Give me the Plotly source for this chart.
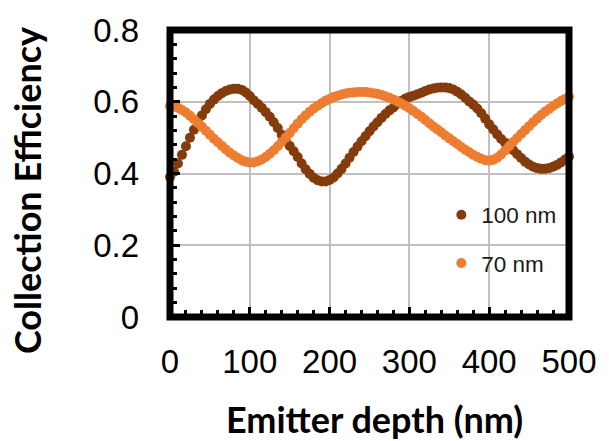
import plotly.graph_objects as go

depth_nm = list(range(0, 505, 5))

eff_100nm = [
    0.390, 0.405, 0.428, 0.452, 0.476, 0.500, 0.522, 0.543, 0.562, 0.579,
    0.594, 0.606, 0.616, 0.624, 0.630, 0.634, 0.636, 0.636, 0.633, 0.626,
    0.616, 0.604, 0.594, 0.583, 0.571, 0.558, 0.543, 0.527, 0.508, 0.492,
    0.477, 0.462, 0.446, 0.428, 0.412, 0.399, 0.388, 0.381, 0.378, 0.378,
    0.382, 0.389, 0.400, 0.413, 0.428, 0.444, 0.460, 0.475, 0.490, 0.504,
    0.518, 0.531, 0.543, 0.555, 0.566, 0.576, 0.584, 0.594, 0.603, 0.609,
    0.613, 0.617, 0.621, 0.625, 0.630, 0.634, 0.637, 0.639, 0.640, 0.640,
    0.638, 0.634, 0.628, 0.620, 0.611, 0.601, 0.592, 0.581, 0.568, 0.553,
    0.537, 0.523, 0.509, 0.496, 0.486, 0.476, 0.465, 0.454, 0.443, 0.433,
    0.425, 0.419, 0.415, 0.413, 0.413, 0.415, 0.419, 0.424, 0.431, 0.439,
    0.447,
]

eff_70nm = [
    0.588, 0.587, 0.583, 0.577, 0.570, 0.561, 0.551, 0.541, 0.530, 0.519,
    0.508, 0.497, 0.487, 0.477, 0.467, 0.458, 0.450, 0.443, 0.437, 0.433,
    0.431, 0.431, 0.434, 0.439, 0.446, 0.455, 0.465, 0.476, 0.488, 0.500,
    0.513, 0.526, 0.539, 0.551, 0.562, 0.572, 0.581, 0.589, 0.596, 0.603,
    0.608, 0.613, 0.617, 0.620, 0.623, 0.625, 0.626, 0.627, 0.627, 0.627,
    0.626, 0.624, 0.622, 0.619, 0.615, 0.611, 0.606, 0.601, 0.595, 0.589,
    0.582, 0.574, 0.566, 0.558, 0.549, 0.540, 0.531, 0.523, 0.515, 0.506,
    0.498, 0.490, 0.482, 0.474, 0.466, 0.459, 0.452, 0.446, 0.441, 0.437,
    0.436, 0.438, 0.444, 0.453, 0.464, 0.476, 0.488, 0.499, 0.510, 0.521,
    0.532, 0.543, 0.553, 0.563, 0.572, 0.580, 0.588, 0.595, 0.602, 0.608,
    0.614,
]

series_names = ["100 nm", "70 nm"]
series_colors = ["#843C0C", "#ED7D31"]

x_ticks = [0, 100, 200, 300, 400, 500]
y_ticks = [0, 0.2, 0.4, 0.6, 0.8]

fig = go.Figure()
for name, vals, col, grp in zip(series_names, [eff_100nm, eff_70nm], series_colors, ["a", "b"]):
    fig.add_trace(go.Scatter(
        x=depth_nm, y=vals, mode="markers", name=name, legendgroup=grp,
        marker=dict(color=col, size=10, line=dict(width=0)),
        cliponaxis=False,
    ))

tick_font = dict(family="Liberation Sans, Arial, sans-serif", size=33, color="#000000")

fig.update_xaxes(
    range=[0, 500], tickvals=x_ticks, showgrid=True, gridcolor="#C0C0C0", gridwidth=1.5,
    zeroline=False, showline=False, ticks="inside", ticklen=10, tickwidth=3, tickcolor="black",
    tickfont=tick_font, ticklabelstandoff=22,
    minor=dict(dtick=20, ticks="inside", ticklen=7, tickwidth=3, tickcolor="black", showgrid=False),
)
fig.update_yaxes(
    range=[0, 0.8], tickvals=y_ticks, showgrid=True, gridcolor="#C0C0C0", gridwidth=1.5,
    zeroline=False, showline=False, ticks="inside", ticklen=10, tickwidth=3, tickcolor="black",
    tickfont=tick_font, ticklabelstandoff=30,
    minor=dict(dtick=0.04, ticks="inside", ticklen=7, tickwidth=3, tickcolor="black", showgrid=False),
)

fig.add_shape(type="rect", xref="paper", yref="paper", x0=0, y0=0, x1=1, y1=1,
              line=dict(color="black", width=7), layer="above")

title_font = dict(family="Lato, Open Sans, sans-serif", size=36, color="#000000")
fig.add_annotation(text="<b>Emitter depth (nm)</b>", xref="paper", yref="paper",
                   x=0.5135, y=-0.355, xanchor="center", yanchor="middle",
                   showarrow=False, font=title_font)
fig.add_annotation(text="<b>Collection Efficiency</b>", xref="paper", yref="paper",
                   x=-0.36, y=0.44, xanchor="center", yanchor="middle", textangle=-90,
                   showarrow=False, font=title_font)

fig.update_layout(
    width=609, height=441,
    margin=dict(l=170, r=32, t=27.5, b=123.5, pad=0),
    paper_bgcolor="white", plot_bgcolor="white",
    showlegend=True,
    legend=dict(x=0.68, y=0.43, xanchor="left", yanchor="top", bgcolor="rgba(0,0,0,0)",
                font=dict(family="Liberation Sans, Arial, sans-serif", size=22.5, color="#1a1a1a"),
                traceorder="grouped", tracegroupgap=16, itemwidth=30),
)

fig.write_html("out.html")
